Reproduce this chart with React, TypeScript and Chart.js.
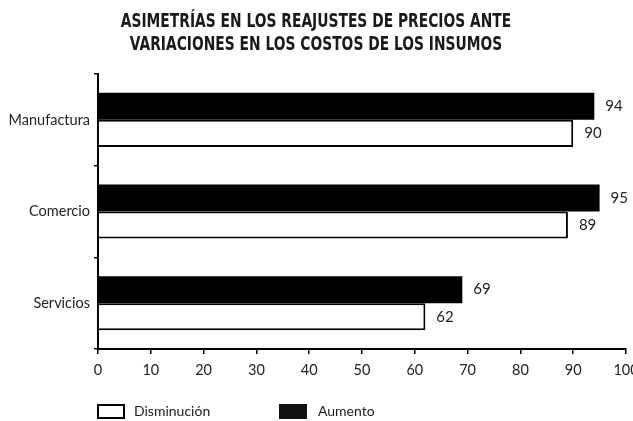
import React, { useEffect, useRef } from "react";
import { Chart, registerables } from "chart.js";

Chart.register(...registerables);

const titleLines = [
  "ASIMETRÍAS EN LOS REAJUSTES DE PRECIOS ANTE",
  "VARIACIONES EN LOS COSTOS DE LOS INSUMOS",
];
const categories = ["Manufactura", "Comercio", "Servicios"];
const aumento = [94, 95, 69];
const disminucion = [90, 89, 62];
const seriesNames = ["Aumento", "Disminución"];
const xMin = 0;
const xMax = 100;
const xStep = 10;

const FONT = "Lato, 'Open Sans', sans-serif";
const TITLE_FONT = "'DejaVu Sans Condensed', 'DejaVu Sans', sans-serif";

const titlePlugin = {
  id: "customTitle",
  afterDraw(chart: any) {
    const ctx = chart.ctx;
    ctx.save();
    ctx.fillStyle = "#1a1a1a";
    ctx.font = `bold 19px ${TITLE_FONT}`;
    ctx.textAlign = "center";
    ctx.textBaseline = "middle";
    const cx = 316;
    titleLines.forEach((line, i) => {
      ctx.save();
      ctx.translate(cx, 22 + i * 23);
      ctx.scale(0.81, 1);
      ctx.fillText(line, 0, 0);
      ctx.restore();
    });
    ctx.restore();
  },
};

const valueLabels = {
  id: "valueLabels",
  afterDatasetsDraw(chart: any) {
    const ctx = chart.ctx;
    ctx.save();
    ctx.fillStyle = "#222";
    ctx.font = `15px ${FONT}`;
    ctx.textBaseline = "middle";
    ctx.textAlign = "left";
    chart.data.datasets.forEach((ds: any, i: number) => {
      const meta = chart.getDatasetMeta(i);
      meta.data.forEach((bar: any, j: number) => {
        ctx.fillText(String(ds.data[j]), bar.x + 11, bar.y);
      });
    });
    ctx.restore();
  },
};

export default function App() {
  const ref = useRef<HTMLCanvasElement>(null);
  useEffect(() => {
    document.body.style.margin = "0";
    const chart = new Chart(ref.current!, {
      type: "bar",
      data: {
        labels: categories,
        datasets: [
          {
            label: seriesNames[0],
            data: aumento,
            backgroundColor: "#000",
            borderColor: "#000",
            borderWidth: 0,
            categoryPercentage: 0.59,
            barPercentage: 1,
          },
          {
            label: seriesNames[1],
            data: disminucion,
            backgroundColor: "#fff",
            borderColor: "#000",
            borderWidth: 2,
            borderSkipped: "start",
            categoryPercentage: 0.59,
            barPercentage: 1,
          },
        ],
      },
      options: {
        indexAxis: "y",
        animation: false,
        responsive: false,
        layout: { padding: { left: 0, right: 7, top: 74, bottom: 0 } },
        plugins: {
          legend: { display: false },
          tooltip: { enabled: false },
          title: { display: false },
        },
        scales: {
          x: {
            min: xMin,
            max: xMax,
            ticks: {
              stepSize: xStep,
              color: "#222",
              font: { family: FONT, size: 14.5 },
              padding: 8,
              maxRotation: 0,
            },
            grid: {
              drawOnChartArea: false,
              drawTicks: true,
              tickLength: 5,
              color: "#000",
              lineWidth: 1.5,
            },
            border: { display: true, color: "#000", width: 2 },
            afterFit(scale: any) {
              scale.height = 72;
              scale.paddingRight = 0;
              scale.paddingLeft = 0;
            },
          },
          y: {
            ticks: {
              color: "#222",
              font: { family: FONT, size: 14.5 },
              padding: 4,
            },
            grid: {
              drawOnChartArea: false,
              drawTicks: true,
              tickLength: 4,
              color: "#000",
              lineWidth: 1.5,
              offset: true,
            },
            border: { display: true, color: "#000", width: 2 },
            afterFit(scale: any) {
              scale.width = 98;
              scale.paddingTop = 0;
              scale.paddingBottom = 0;
            },
          },
        },
      },
      plugins: [valueLabels, titlePlugin],
    } as any);
    return () => chart.destroy();
  }, []);

  const legendText: React.CSSProperties = {
    position: "absolute",
    fontFamily: FONT,
    fontSize: 14,
    color: "#222",
    top: 402,
    lineHeight: "18px",
  };
  return (
    <div style={{ position: "relative", width: 633, height: 421 }}>
      <canvas ref={ref} width={633} height={421} style={{ display: "block" }} />
      <div
        style={{
          position: "absolute",
          left: 97,
          top: 404,
          width: 24,
          height: 11,
          border: "2px solid #000",
          background: "#fff",
        }}
      />
      <div style={{ ...legendText, left: 134 }}>{seriesNames[1]}</div>
      <div
        style={{
          position: "absolute",
          left: 279,
          top: 404,
          width: 28,
          height: 15,
          background: "#111",
        }}
      />
      <div style={{ ...legendText, left: 318 }}>{seriesNames[0]}</div>
    </div>
  );
}
